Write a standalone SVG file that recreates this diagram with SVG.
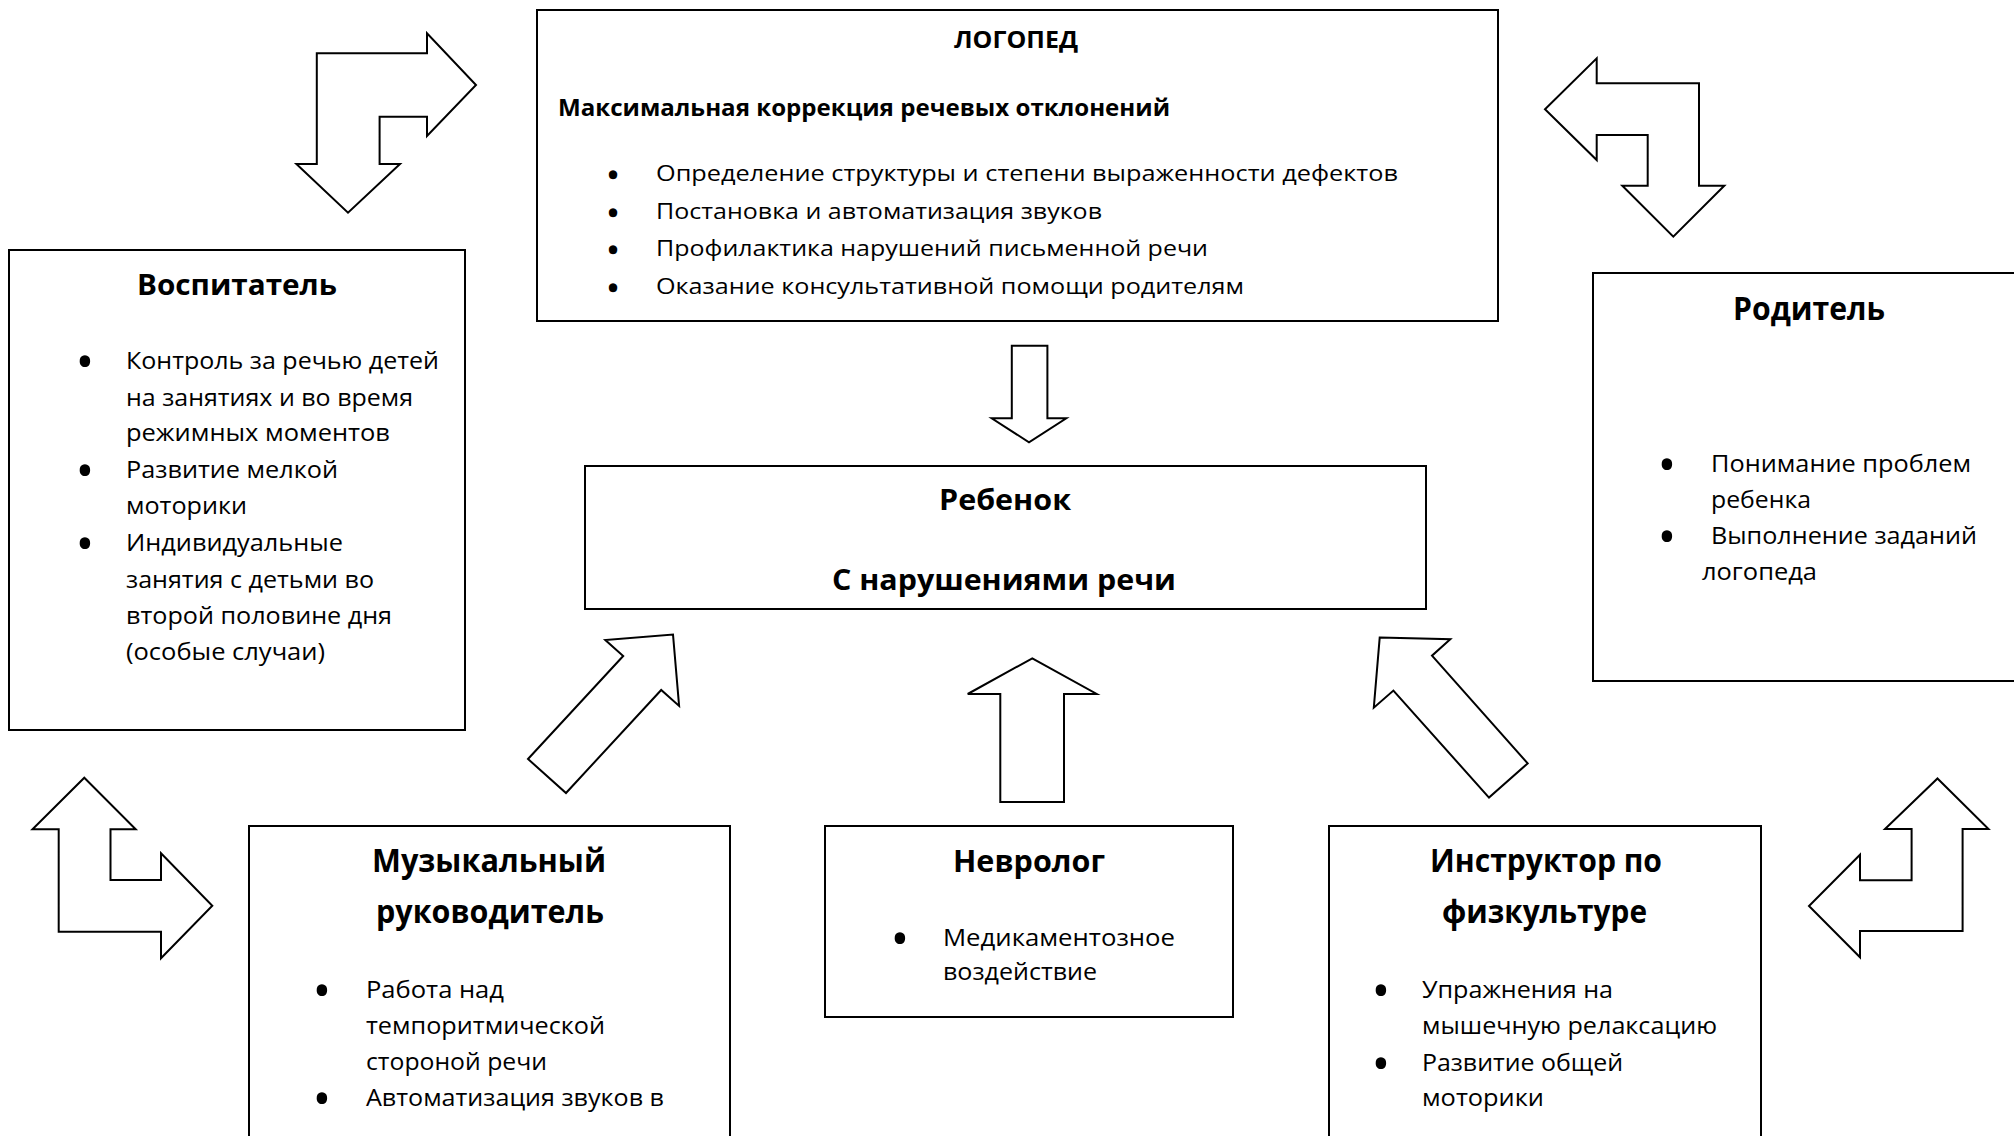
<svg xmlns="http://www.w3.org/2000/svg" width="2014" height="1136" viewBox="0 0 2014 1136">
<style>
.box{fill:#fff;stroke:#000;stroke-width:2}
.arr{fill:#fff;stroke:#000;stroke-width:2;stroke-linejoin:miter}
text{font-family:"Open Sans","Noto Sans","DejaVu Sans",sans-serif;fill:#000}
.t{font-weight:bold;font-size:28px}
.tb{font-weight:bold;font-size:33px}
.b{font-size:24px}
.lb{font-size:21px}
.bul{font-size:50px;text-anchor:middle}
.lbul{font-size:28px;text-anchor:middle;stroke:#000;stroke-width:2.5}
</style>
<rect width="2014" height="1136" fill="#fff"/>
<g id="connectors">
<polygon class="arr" points="316.8,53.3 427,53.3 427,33.3 476,85 427,136 427,116.7 379.6,116.7 379.6,164 400,164 348,212.7 296.4,164 316.8,164"/>
<polygon class="arr" points="1596.7,58.3 1596.7,83.3 1699,83.3 1699,185.7 1724.3,185.7 1673.3,236.7 1622.3,185.7 1647.7,185.7 1647.7,135 1596.7,135 1596.7,160 1545,109.3"/>
<polygon class="arr" points="1011.8,345.7 1047.4,345.7 1047.4,418.3 1066.3,418.3 1029,442.3 991.7,418.3 1011.8,418.3"/>
<polygon class="arr" points="1032.3,658.3 1096.7,694 1064,694 1064,802 1000.3,802 1000.3,694 967.7,694"/>
<polygon class="arr" points="528,759 623.2,656 605.3,640.1 673,634.5 679.1,705.9 661.2,690 566,793"/>
<polygon class="arr" points="1379.7,637.6 1450.3,639.3 1432,655.7 1527.7,763.4 1489,797.6 1393.4,690.6 1373.8,707.7"/>
<polygon class="arr" points="84.3,777.7 135.7,829.3 110.5,829.3 110.5,880 161,880 161,853.3 212.3,905.7 161,958.3 161,931.7 58.7,931.7 58.7,829.3 32.5,829.3"/>
<polygon class="arr" points="1937.5,778.5 1988.5,829 1962.6,829 1962.6,931 1860,931 1860,957.3 1809,906 1860,854.7 1860,880.3 1911.6,880.3 1911.6,829 1885,829"/>
</g>
<g id="logoped">
<rect class="box" x="537" y="10" width="961" height="311"/>
<text x="954" y="48" style="font-weight:bold;font-size:24px" textLength="124" lengthAdjust="spacingAndGlyphs">ЛОГОПЕД</text>
<text x="558" y="116" style="font-weight:bold;font-size:23px" textLength="612" lengthAdjust="spacingAndGlyphs">Максимальная коррекция речевых отклонений</text>
<text class="lbul" x="613" y="185">•</text>
<text class="lb" x="656" y="181" textLength="742" lengthAdjust="spacingAndGlyphs">Определение структуры и степени выраженности дефектов</text>
<text class="lbul" x="613" y="222.5">•</text>
<text class="lb" x="656" y="218.5" textLength="446" lengthAdjust="spacingAndGlyphs">Постановка и автоматизация звуков</text>
<text class="lbul" x="613" y="260">•</text>
<text class="lb" x="656" y="256" textLength="552" lengthAdjust="spacingAndGlyphs">Профилактика нарушений письменной речи</text>
<text class="lbul" x="613" y="297.5">•</text>
<text class="lb" x="656" y="293.5" textLength="588" lengthAdjust="spacingAndGlyphs">Оказание консультативной помощи родителям</text>
</g>
<g id="vospitatel">
<rect class="box" x="9" y="250" width="456" height="480"/>
<text class="t" x="137" y="295" textLength="200" lengthAdjust="spacingAndGlyphs">Воспитатель</text>
<text class="bul" x="85" y="379">•</text>
<text class="b" x="126" y="369" textLength="313" lengthAdjust="spacingAndGlyphs">Контроль за речью детей</text>
<text class="b" x="126" y="405.5" textLength="287" lengthAdjust="spacingAndGlyphs">на занятиях и во время</text>
<text class="b" x="126" y="441" textLength="264" lengthAdjust="spacingAndGlyphs">режимных моментов</text>
<text class="bul" x="85" y="487.5">•</text>
<text class="b" x="126" y="477.5" textLength="212" lengthAdjust="spacingAndGlyphs">Развитие мелкой</text>
<text class="b" x="126" y="514" textLength="121" lengthAdjust="spacingAndGlyphs">моторики</text>
<text class="bul" x="85" y="561">•</text>
<text class="b" x="126" y="551" textLength="217" lengthAdjust="spacingAndGlyphs">Индивидуальные</text>
<text class="b" x="126" y="587.5" textLength="248" lengthAdjust="spacingAndGlyphs">занятия с детьми во</text>
<text class="b" x="126" y="623.5" textLength="266" lengthAdjust="spacingAndGlyphs">второй половине дня</text>
<text class="b" x="126" y="659.5" textLength="199" lengthAdjust="spacingAndGlyphs">(особые случаи)</text>
</g>
<g id="roditel">
<rect class="box" x="1593" y="273" width="440" height="408"/>
<text class="tb" x="1733" y="320" textLength="152" lengthAdjust="spacingAndGlyphs">Родитель</text>
<text class="bul" x="1667" y="482">•</text>
<text class="b" x="1711" y="472" textLength="260" lengthAdjust="spacingAndGlyphs">Понимание проблем</text>
<text class="b" x="1711" y="508" textLength="100" lengthAdjust="spacingAndGlyphs">ребенка</text>
<text class="bul" x="1667" y="554">•</text>
<text class="b" x="1711" y="544" textLength="266" lengthAdjust="spacingAndGlyphs">Выполнение заданий</text>
<text class="b" x="1702" y="580" textLength="115" lengthAdjust="spacingAndGlyphs">логопеда</text>
</g>
<g id="child">
<rect class="box" x="585" y="466" width="841" height="143"/>
<text x="939" y="510" style="font-weight:bold;font-size:28px" textLength="132" lengthAdjust="spacingAndGlyphs">Ребенок</text>
<text x="832" y="590" style="font-weight:bold;font-size:28px" textLength="344" lengthAdjust="spacingAndGlyphs">С нарушениями речи</text>
</g>
<g id="muz">
<rect class="box" x="249" y="826" width="481" height="330"/>
<text class="tb" x="372" y="872" textLength="234" lengthAdjust="spacingAndGlyphs">Музыкальный</text>
<text class="tb" x="376" y="923" textLength="228" lengthAdjust="spacingAndGlyphs">руководитель</text>
<text class="bul" x="322" y="1008">•</text>
<text class="b" x="366" y="998" textLength="138" lengthAdjust="spacingAndGlyphs">Работа над</text>
<text class="b" x="366" y="1034" textLength="239" lengthAdjust="spacingAndGlyphs">темпоритмической</text>
<text class="b" x="366" y="1070" textLength="181" lengthAdjust="spacingAndGlyphs">стороной речи</text>
<text class="bul" x="322" y="1116">•</text>
<text class="b" x="366" y="1106" textLength="298" lengthAdjust="spacingAndGlyphs">Автоматизация звуков в</text>
</g>
<g id="nevrolog">
<rect class="box" x="825" y="826" width="408" height="191"/>
<text class="t" x="953" y="872" style="font-size:30px" textLength="152" lengthAdjust="spacingAndGlyphs">Невролог</text>
<text class="bul" x="900" y="956">•</text>
<text class="b" x="943" y="946" textLength="232" lengthAdjust="spacingAndGlyphs">Медикаментозное</text>
<text class="b" x="943" y="980" textLength="154" lengthAdjust="spacingAndGlyphs">воздействие</text>
</g>
<g id="instructor">
<rect class="box" x="1329" y="826" width="432" height="330"/>
<text class="tb" x="1430" y="872" textLength="232" lengthAdjust="spacingAndGlyphs">Инструктор по</text>
<text class="tb" x="1442" y="923" textLength="205" lengthAdjust="spacingAndGlyphs">физкультуре</text>
<text class="bul" x="1381" y="1008">•</text>
<text class="b" x="1422" y="998" textLength="191" lengthAdjust="spacingAndGlyphs">Упражнения на</text>
<text class="b" x="1422" y="1034" textLength="295" lengthAdjust="spacingAndGlyphs">мышечную релаксацию</text>
<text class="bul" x="1381" y="1081">•</text>
<text class="b" x="1422" y="1071" textLength="201" lengthAdjust="spacingAndGlyphs">Развитие общей</text>
<text class="b" x="1422" y="1106" textLength="122" lengthAdjust="spacingAndGlyphs">моторики</text>
</g>
</svg>
